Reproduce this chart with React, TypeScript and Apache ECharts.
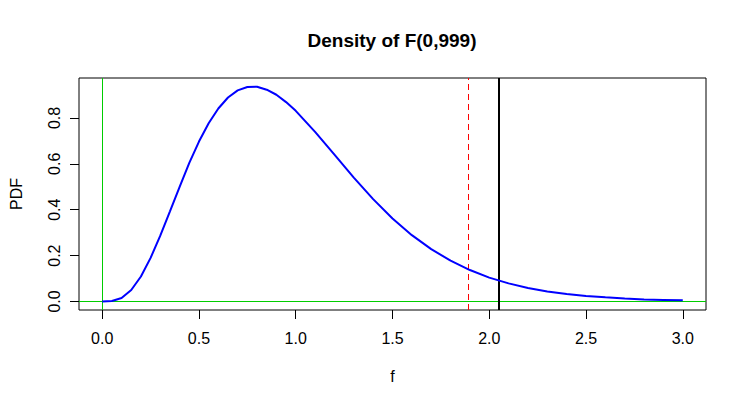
import React, { useEffect, useRef } from "react";
import * as echarts from "echarts";

const titleText = "Density of F(0,999)";
const xTicks = [0, 0.5, 1, 1.5, 2, 2.5, 3];
const yTicks = [0, 0.2, 0.4, 0.6, 0.8];
const fValues = [
  0, 0.05, 0.1, 0.15, 0.2, 0.25, 0.3, 0.35, 0.4, 0.45, 0.5, 0.55, 0.6, 0.65, 0.7,
  0.75, 0.8, 0.85, 0.9, 0.95, 1.0, 1.1, 1.2, 1.3, 1.4, 1.5, 1.6, 1.7, 1.8, 1.9,
  2.0, 2.1, 2.2, 2.3, 2.4, 2.5, 2.6, 2.7, 2.8, 2.9, 3.0,
];
const pdfValues = [
  0, 0.002, 0.015, 0.05, 0.109, 0.19, 0.287, 0.393, 0.5, 0.604, 0.697, 0.777,
  0.841, 0.889, 0.92, 0.935, 0.936, 0.923, 0.901, 0.869, 0.831, 0.739, 0.64,
  0.54, 0.446, 0.362, 0.289, 0.228, 0.178, 0.137, 0.104, 0.079, 0.059, 0.044,
  0.033, 0.024, 0.018, 0.013, 0.009, 0.007, 0.005,
];
const dashedCutoff = 1.887;
const solidCutoff = 2.05;

const FONT = "'Liberation Sans', Arial, sans-serif";

export default function App() {
  const ref = useRef<HTMLDivElement>(null);
  useEffect(() => {
    if (!ref.current) return;
    const chart = echarts.init(ref.current, null, { renderer: "svg" });
    const data = fValues.map((x, i) => [x, pdfValues[i]]);
    chart.setOption({
      animation: false,
      backgroundColor: "#ffffff",
      textStyle: { fontFamily: FONT },
      graphic: [
        {
          type: "text",
          x: 392,
          y: 40,
          style: {
            text: titleText,
            textAlign: "center",
            textVerticalAlign: "middle",
            fontFamily: FONT,
            fontSize: 19,
            fontWeight: "bold",
            fill: "#000",
          },
        },
      ],
      grid: {
        left: 78,
        top: 78,
        right: 40,
        bottom: 98,
        show: true,
        borderColor: "#000",
        borderWidth: 1,
        backgroundColor: "transparent",
      },
      xAxis: {
        type: "value",
        min: -0.12,
        max: 3.12,
        name: "f",
        nameLocation: "middle",
        nameGap: 58,
        nameTextStyle: { fontFamily: FONT, fontSize: 16, color: "#000" },
        axisLine: { show: false, onZero: false },
        axisTick: { show: true, inside: false, length: 9, customValues: xTicks, lineStyle: { color: "#000" } },
        axisLabel: {
          customValues: xTicks,
          margin: 20,
          fontFamily: FONT,
          fontSize: 16,
          color: "#000",
          formatter: (v: number) => v.toFixed(1),
        },
        splitLine: { show: false },
      },
      yAxis: {
        type: "value",
        min: -0.0371,
        max: 0.974,
        name: "PDF",
        nameLocation: "middle",
        nameGap: 55,
        nameTextStyle: { fontFamily: FONT, fontSize: 16, color: "#000" },
        axisLine: { show: false, onZero: false },
        axisTick: { show: true, inside: false, length: 9, customValues: yTicks, lineStyle: { color: "#000" } },
        axisLabel: {
          customValues: yTicks,
          rotate: 90,
          margin: 17,
          fontFamily: FONT,
          fontSize: 16,
          color: "#000",
          formatter: (v: number) => v.toFixed(1),
        },
        splitLine: { show: false },
      },
      series: [
        {
          type: "line",
          data,
          showSymbol: false,
          symbol: "none",
          lineStyle: { color: "#0000ff", width: 2 },
          z: 3,
          markLine: {
            silent: true,
            symbol: "none",
            label: { show: false },
            z: 2,
            data: [
              { xAxis: 0, lineStyle: { color: "#00cd00", width: 1, type: "solid" } },
              { yAxis: 0, lineStyle: { color: "#00cd00", width: 1, type: "solid" } },
              { xAxis: dashedCutoff, lineStyle: { color: "#ff0000", width: 1, type: [6, 4] } },
              { xAxis: solidCutoff, lineStyle: { color: "#000000", width: 2, type: "solid" } },
            ],
          },
        },
      ],
    });
    return () => chart.dispose();
  }, []);
  return (
    <div
      ref={ref}
      style={{ position: "fixed", left: 0, top: 0, width: 746, height: 408, background: "#fff" }}
    />
  );
}
